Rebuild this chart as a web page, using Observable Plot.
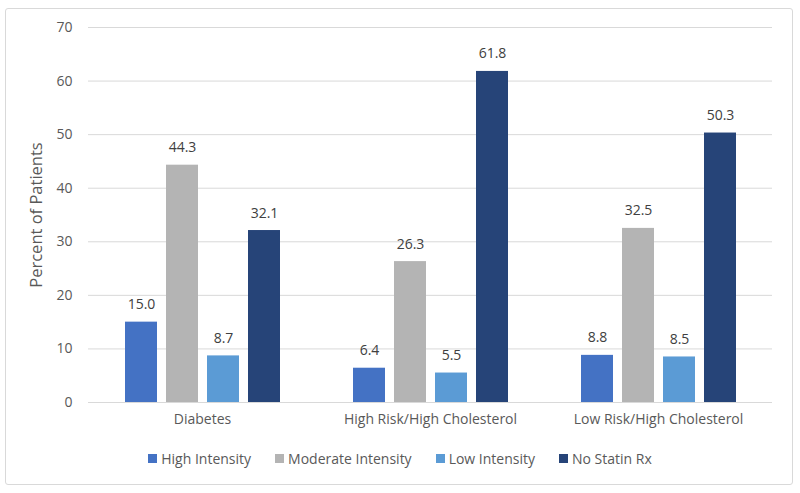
<!DOCTYPE html>
<html>
<head>
<meta charset="utf-8">
<script src="https://cdn.jsdelivr.net/npm/d3@7"></script>
<script src="https://cdn.jsdelivr.net/npm/@observablehq/plot@0.6"></script>
<style>
  html, body { margin: 0; padding: 0; background: #fff; }
  #wrap { position: relative; width: 800px; height: 493px; font-family: "Open Sans", sans-serif; color: #595959; }
  #frame { position: absolute; left: 5px; top: 8px; width: 786px; height: 475px; border: 1.5px solid #d9d9d9; border-radius: 3px; box-sizing: content-box; }
  #chart { position: absolute; left: 0; top: 0; }
  #legend { position: absolute; left: 0; top: 449px; width: 800px; display: flex; justify-content: center; gap: 24px; font-size: 14px; }
  .item { display: flex; align-items: center; gap: 4px; }
  .sw { width: 9px; height: 9px; display: inline-block; }
</style>
</head>
<body>
<div id="wrap">
  <div id="frame"></div>
  <div id="chart"></div>
  <div id="legend"></div>
</div>
<script>
const groups = ["Diabetes", "High Risk/High Cholesterol", "Low Risk/High Cholesterol"];
const series = ["High Intensity", "Moderate Intensity", "Low Intensity", "No Statin Rx"];
const highIntensity = [15.0, 6.4, 8.8];
const moderateIntensity = [44.3, 26.3, 32.5];
const lowIntensity = [8.7, 5.5, 8.5];
const noStatinRx = [32.1, 61.8, 50.3];
const yTicks = [0, 10, 20, 30, 40, 50, 60, 70];
const colors = ["#4472C4", "#B4B4B4", "#5B9BD5", "#264478"];

const seriesValues = [highIntensity, moderateIntensity, lowIntensity, noStatinRx];
const data = [];
groups.forEach((g, gi) => {
  series.forEach((s, si) => {
    data.push({group: g, series: s, value: seriesValues[si][gi]});
  });
});

const chart = Plot.plot({
  width: 800,
  height: 440,
  marginLeft: 88,
  marginRight: 28,
  marginTop: 27,
  marginBottom: 38,
  style: {fontFamily: "Open Sans, sans-serif", fontSize: "14px", color: "#595959", background: "transparent"},
  fx: {domain: groups, padding: 0, label: null, axis: "bottom", tickSize: 0, tickPadding: 12},
  x: {domain: series, paddingInner: 0.22, paddingOuter: 0.89, axis: null},
  y: {domain: [0, 70], ticks: yTicks, tickSize: 0, tickPadding: 16, label: "Percent of Patients", labelAnchor: "center", labelOffset: 58, labelArrow: "none"},
  color: {domain: series, range: colors},
  marks: [
    Plot.ruleY(yTicks, {stroke: "#d9d9d9", strokeWidth: 1}),
    Plot.barY(data, {fx: "group", x: "series", y: "value", fill: "series"}),
    Plot.text(data, {fx: "group", x: "series", y: "value", text: d => d.value.toFixed(1), dy: -13, lineAnchor: "bottom", fill: "#404040", fontSize: 14})
  ]
});
d3.select(chart).selectAll('g[aria-label="y-axis label"]').attr("font-size", 16.5);
document.getElementById("chart").appendChild(chart);

const legend = document.getElementById("legend");
series.forEach((s, i) => {
  const item = document.createElement("div");
  item.className = "item";
  const sw = document.createElement("span");
  sw.className = "sw";
  sw.style.background = colors[i];
  const t = document.createElement("span");
  t.textContent = s;
  item.appendChild(sw);
  item.appendChild(t);
  legend.appendChild(item);
});
</script>
</body>
</html>
